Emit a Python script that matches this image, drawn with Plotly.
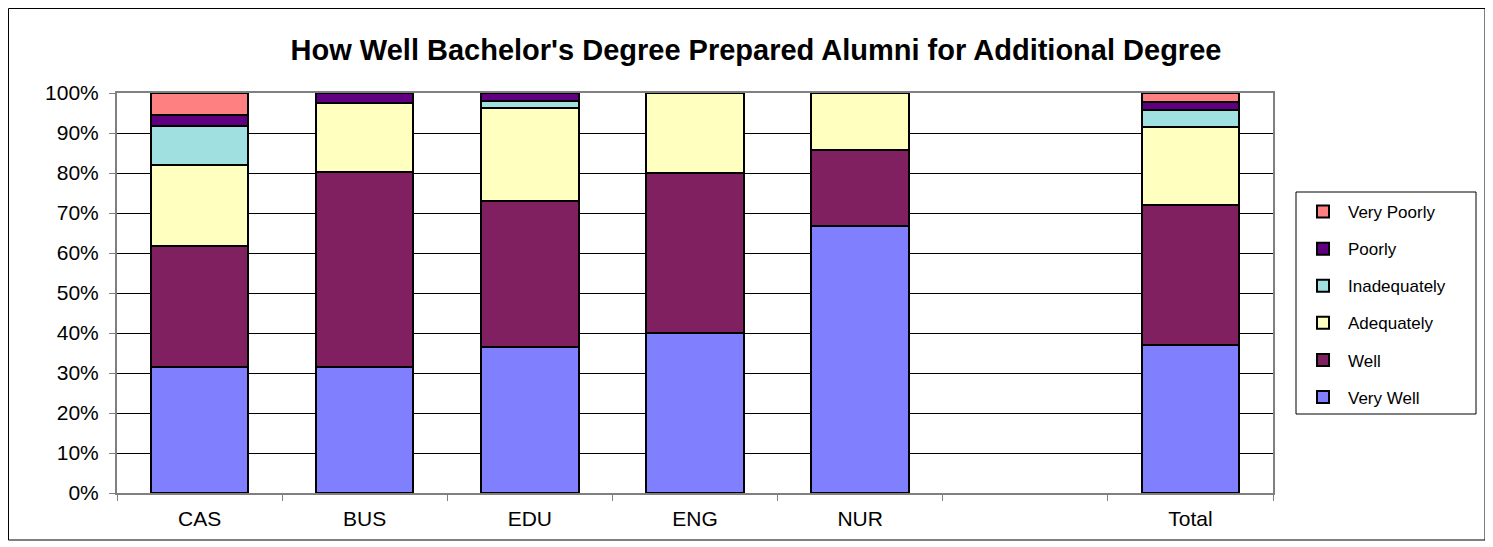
import plotly.graph_objects as go

categories = ["CAS", "BUS", "EDU", "ENG", "NUR", " ", "Total"]
very_well = [0.314, 0.316, 0.365, 0.40, 0.667, None, 0.370]
well = [0.303, 0.487, 0.365, 0.40, 0.190, None, 0.350]
adequately = [0.203, 0.171, 0.232, 0.20, 0.143, None, 0.196]
inadequately = [0.097, 0.0, 0.019, 0.0, 0.0, None, 0.041]
poorly = [0.028, 0.026, 0.019, 0.0, 0.0, None, 0.021]
very_poorly = [0.055, 0.0, 0.0, 0.0, 0.0, None, 0.022]

series = [
    ("Very Well", very_well, "#8080FF"),
    ("Well", well, "#802060"),
    ("Adequately", adequately, "#FFFFC0"),
    ("Inadequately", inadequately, "#A0E0E0"),
    ("Poorly", poorly, "#600080"),
    ("Very Poorly", very_poorly, "#FF8080"),
]

FONT = "Liberation Sans, Arial, sans-serif"

fig = go.Figure()
n = len(series)
for i, (name, vals, col) in enumerate(series):
    fig.add_trace(go.Bar(
        x=categories, y=vals, name=name, legendgroup=name,
        legendrank=n - i,
        marker=dict(color=col, line=dict(color="black", width=2)),
        width=0.59,
    ))

# The page body has an 8px margin, so work in page coords and shift by OFF.
OFF = 8
W, H = 1493 - OFF, 547 - OFF
L, R, T, B = 117 - OFF, 1273 - OFF, 93 - OFF, 493 - OFF
pw, ph = R - L, B - T

def px(x):
    return (x - OFF - L) / pw

def py(y):
    return (B - (y - OFF)) / ph

fig.update_layout(
    width=W, height=H,
    barmode="stack",
    paper_bgcolor="white", plot_bgcolor="white",
    margin=dict(l=L, r=W - R, t=T, b=H - B, pad=0),
    font=dict(family=FONT, color="black"),
    title=dict(
        text="<b>How Well Bachelor's Degree Prepared Alumni for Additional Degree</b>",
        font=dict(family=FONT, size=29, color="black"),
        x=(756 - OFF) / W, xanchor="center", xref="container",
        y=1 - (50 - OFF) / H, yanchor="middle", yref="container",
    ),
    legend=dict(
        x=px(1298), y=py(194), xanchor="left", yanchor="top",
        traceorder="grouped", tracegroupgap=12, itemwidth=40,
        font=dict(family=FONT, size=17, color="black"),
        bgcolor="rgba(0,0,0,0)", borderwidth=0,
    ),
    xaxis=dict(
        type="category", categoryorder="array", categoryarray=categories,
        range=[-0.5, 6.5],
        tickson="boundaries", ticks="outside", ticklen=6, tickcolor="#808080",
        tickwidth=1,
        showline=True, linecolor="#808080", linewidth=2, mirror=True,
        showgrid=False, zeroline=False,
        tickfont=dict(family=FONT, size=21, color="black"),
        ticklabelstandoff=6,
    ),
    yaxis=dict(
        range=[0, 1], dtick=0.1, tick0=0, tickformat=".0%",
        ticks="outside", ticklen=6, tickcolor="#808080", tickwidth=1,
        showline=True, linecolor="#808080", linewidth=2, mirror=True,
        showgrid=True, gridcolor="black", gridwidth=1, zeroline=False,
        tickfont=dict(family=FONT, size=21, color="black"),
        ticklabelstandoff=6,
    ),
    shapes=[
        dict(type="rect", xref="paper", yref="paper",
             x0=px(8.5), x1=px(1485), y0=py(540), y1=py(8.5),
             line=dict(color="black", width=1), fillcolor="rgba(0,0,0,0)", layer="below"),
        dict(type="rect", xref="paper", yref="paper",
             x0=px(1296), x1=px(1476), y0=py(414), y1=py(192),
             line=dict(color="black", width=1), fillcolor="rgba(0,0,0,0)"),
    ],
)

fig.write_html("out.html")
